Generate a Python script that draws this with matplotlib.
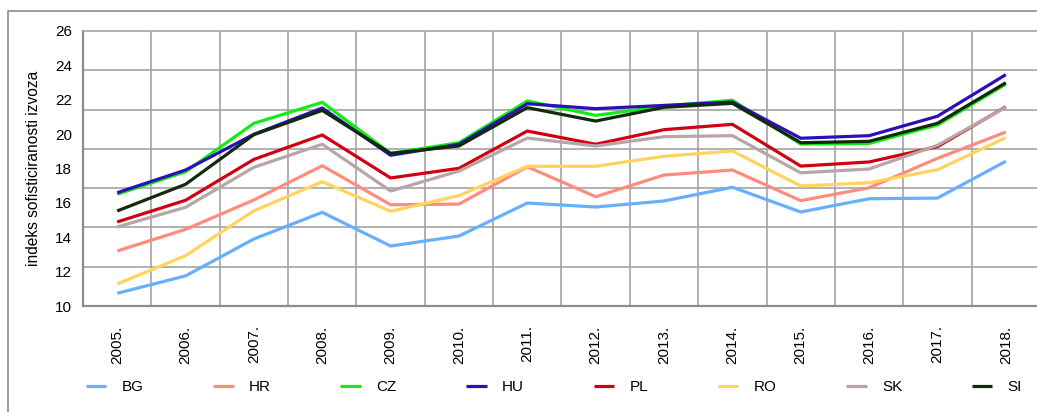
import numpy as np
import matplotlib
matplotlib.use("Agg")
import matplotlib.pyplot as plt
from matplotlib.lines import Line2D

plt.rcParams['font.family'] = ['Liberation Sans', 'DejaVu Sans']

years = ['2005.', '2006.', '2007.', '2008.', '2009.', '2010.', '2011.',
         '2012.', '2013.', '2014.', '2015.', '2016.', '2017.', '2018.']

BG = [10.74, 11.75, 13.90, 15.45, 13.49, 14.07, 15.99, 15.76, 16.11, 16.91, 15.47, 16.24, 16.28, 18.42]
HR = [13.20, 14.46, 16.17, 18.16, 15.89, 15.93, 18.10, 16.36, 17.62, 17.91, 16.13, 16.88, 18.59, 20.12]
CZ = [16.50, 17.81, 20.63, 21.85, 18.88, 19.50, 21.93, 21.09, 21.63, 21.97, 19.42, 19.46, 20.53, 22.91]
HU = [16.59, 17.91, 19.99, 21.52, 18.77, 19.41, 21.77, 21.48, 21.67, 21.87, 19.76, 19.91, 21.04, 23.46]
PL = [14.89, 16.15, 18.53, 19.95, 17.45, 18.01, 20.18, 19.41, 20.26, 20.57, 18.14, 18.38, 19.27, 21.59]
RO = [11.28, 12.93, 15.54, 17.23, 15.51, 16.42, 18.13, 18.13, 18.71, 19.02, 16.98, 17.17, 17.93, 19.79]
SK = [14.60, 15.74, 18.07, 19.41, 16.69, 17.85, 19.77, 19.31, 19.85, 19.91, 17.75, 17.97, 19.35, 21.56]
SI = [15.53, 17.08, 19.97, 21.38, 18.88, 19.31, 21.54, 20.76, 21.56, 21.79, 19.50, 19.58, 20.63, 22.99]

series = [('BG', BG, '#66b0ff'), ('HR', HR, '#ff8c7c'), ('CZ', CZ, '#11ee11'),
          ('HU', HU, '#2a10b8'), ('PL', PL, '#d00010'), ('RO', RO, '#ffd45e'),
          ('SK', SK, '#b7a6a6'), ('SI', SI, '#13290b')]

W, H = 1037, 412
fig = plt.figure(figsize=(W / 100, H / 100), dpi=100)
ax = fig.add_axes([83 / W, (H - 306) / H, (1040 - 83) / W, (306 - 31) / H])

x = np.arange(len(years))
for name, vals, col in series:
    ax.plot(x, vals, color=col, lw=2.3, label=name, solid_capstyle='butt')

ax.set_xlim(-0.5, len(years) - 0.5)
ax.set_ylim(10, 26)
ax.set_yticks(np.arange(10, 27, 2))
ax.set_yticks(np.linspace(10, 26, 8), minor=True)
ax.set_xticks(x)
ax.set_xticklabels(years, rotation=90, va='top')
ax.set_xticks(np.arange(0.5, len(years) - 1, 1), minor=True)
ax.grid(which='minor', color='#a3a3a3', lw=1.2)
ax.grid(which='major', visible=False)
ax.set_axisbelow(True)
ax.tick_params(which='both', length=0, labelsize=11, colors='black')
ax.tick_params(axis='x', pad=14)
ax.tick_params(axis='y', pad=8)
ax.spines['right'].set_visible(False)
ax.spines['top'].set_color('#a3a3a3')
ax.spines['top'].set_linewidth(1.2)
for s in ['left', 'bottom']:
    ax.spines[s].set_color('#8c8c8c')
    ax.spines[s].set_linewidth(1.6)

ax.set_ylabel('indeks sofisticiranosti izvoza', fontsize=11.2, labelpad=10)

fig.legend(loc='center left', bbox_to_anchor=(72 / W, 1 - 387 / H), ncol=8,
           frameon=False, fontsize=11, handlelength=1.35, handletextpad=1.0,
           columnspacing=4.55)

fig.add_artist(Line2D([8 / W, 8 / W, 1], [0, 1 - 11 / H, 1 - 11 / H],
                      transform=fig.transFigure, color='#8c8c8c', lw=1.2))

fig.savefig('out.png', dpi=100)
